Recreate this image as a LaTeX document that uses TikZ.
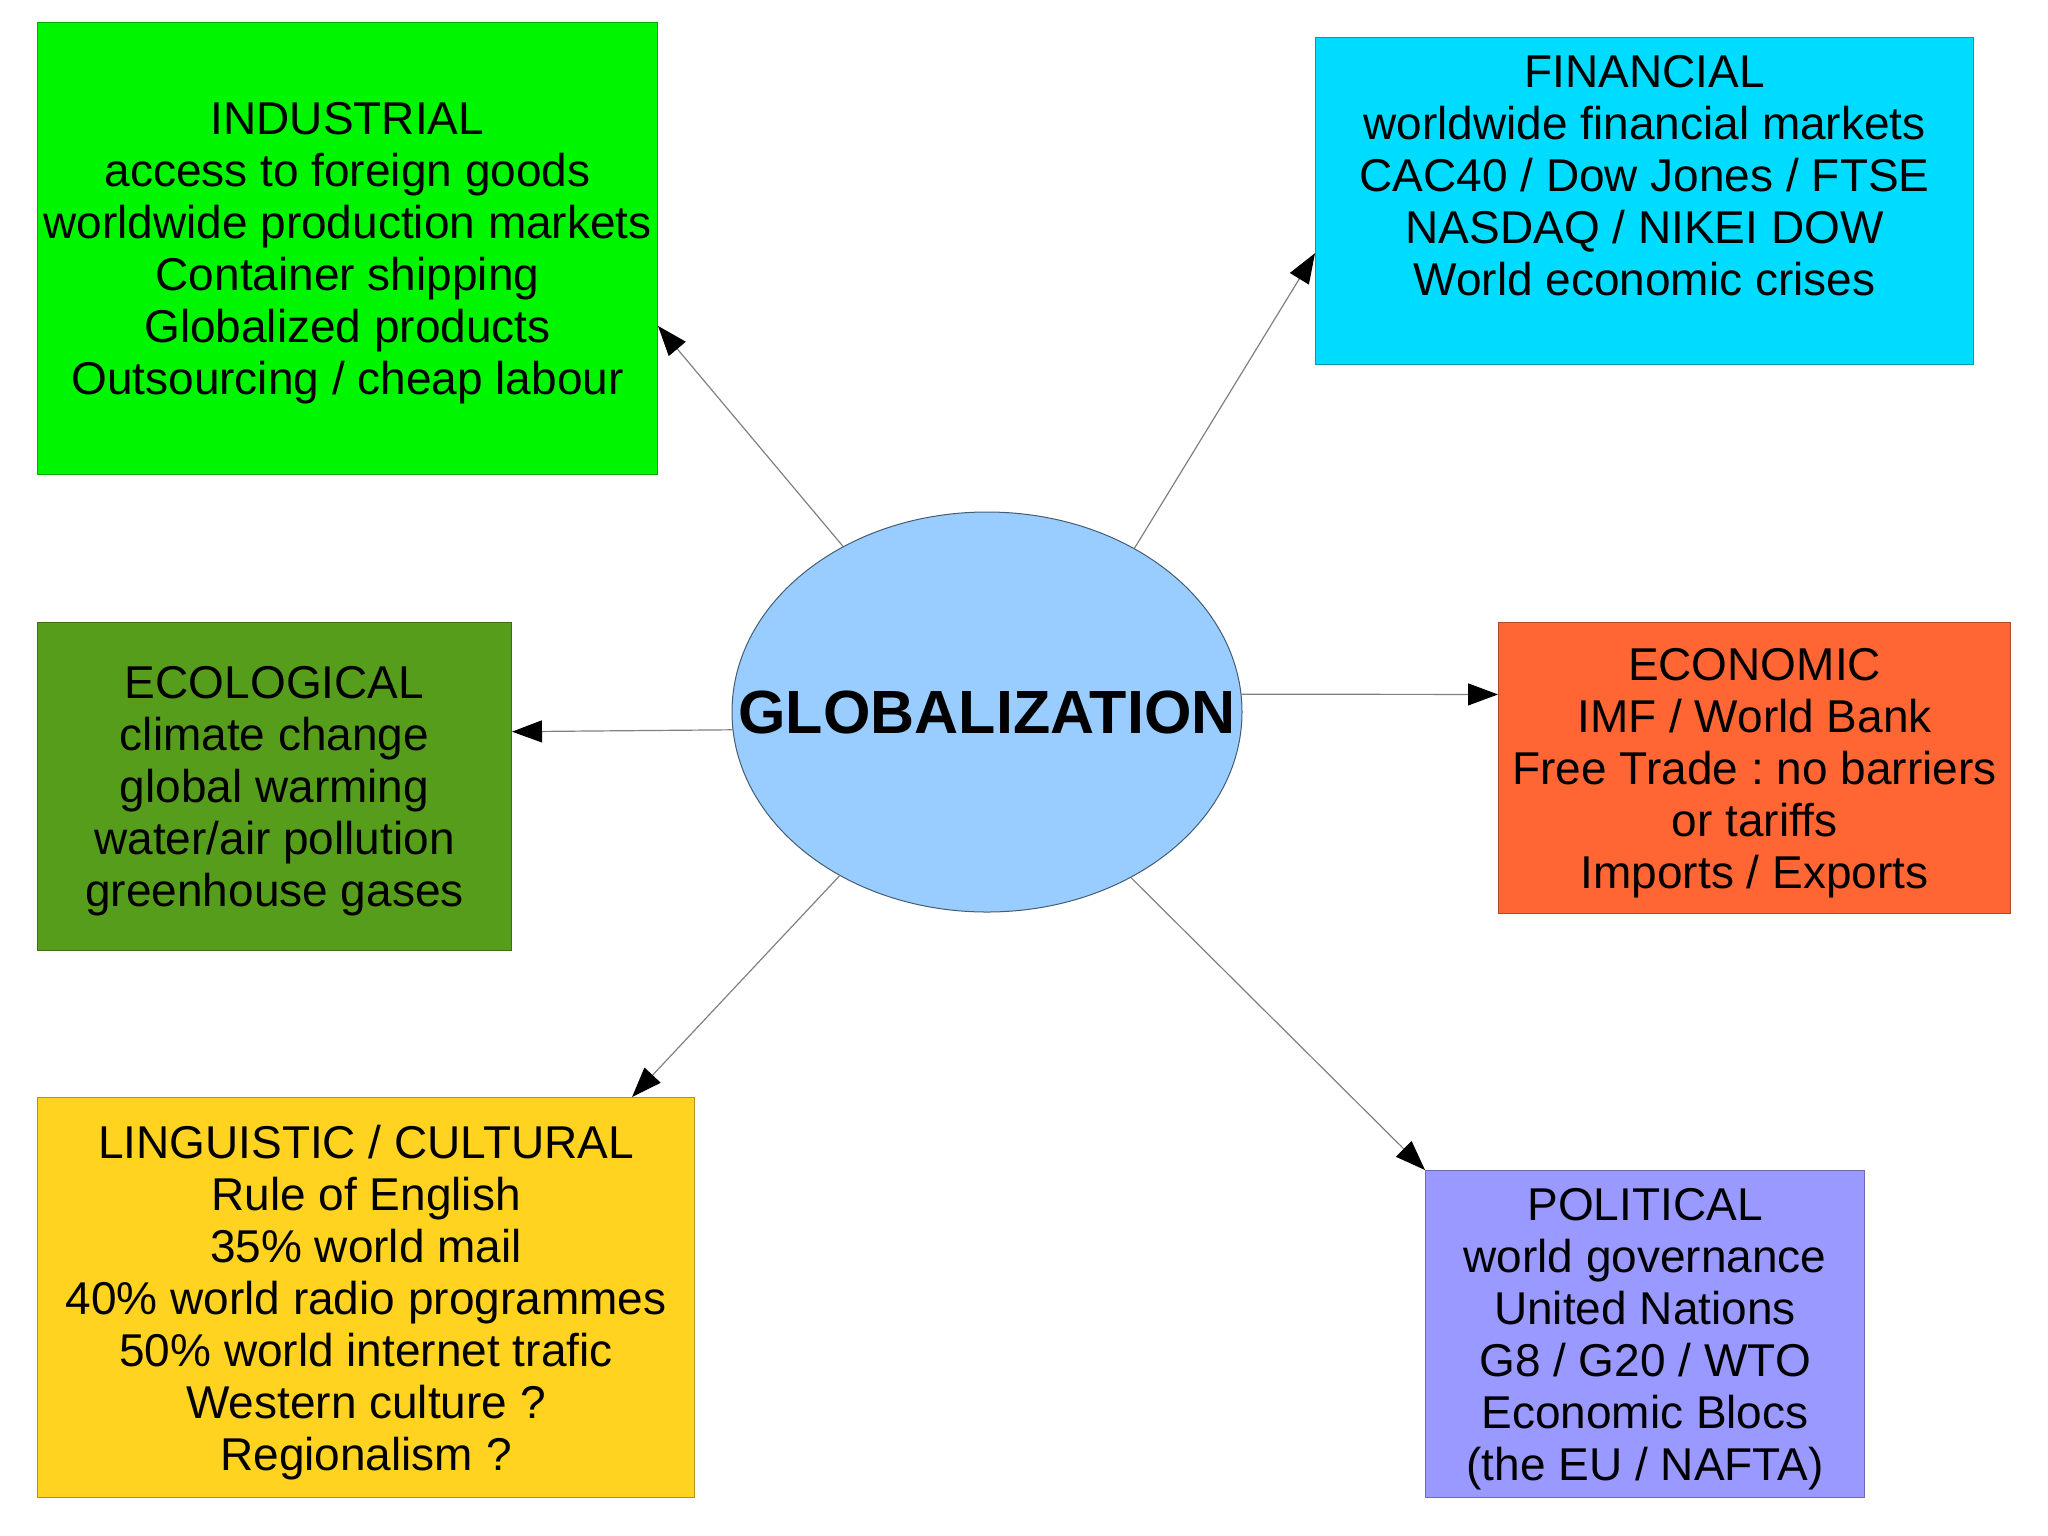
\documentclass[tikz,border=0pt]{standalone}
\usepackage{fontspec}
\setmainfont{Liberation Sans}
\usetikzlibrary{positioning, shapes.geometric, arrows.meta}
\definecolor{indgreen}{RGB}{0,245,0}
\definecolor{fincyan}{RGB}{0,220,255}
\definecolor{ecogreen}{RGB}{87,157,28}
\definecolor{econorange}{RGB}{255,102,51}
\definecolor{lingyellow}{RGB}{255,211,32}
\definecolor{polblue}{RGB}{153,153,255}
\definecolor{hubblue}{RGB}{153,204,255}
\frenchspacing

\begin{document}
\begin{tikzpicture}[x=1pt, y=-1pt, >={Triangle[length=30pt, width=22pt, black]},
    box/.style={draw, anchor=north west, inner sep=0pt, align=center, line width=1pt, text depth=0pt, font=\fontsize{46}{52}\selectfont},
    hub/.style={ellipse, draw=black!55!hubblue, fill=hubblue, minimum width=510pt, minimum height=400pt, inner sep=0pt, line width=1pt, font=\bfseries\fontsize{61}{66}\selectfont},
    link/.style={->, draw=gray, line width=1.2pt}]
    \useasboundingbox (0,0) rectangle (2048,1535);

    \node (glob) [hub] at (987,712) {\makebox[0pt]{GLOBALIZATION}};

    \node (ind) [box, fill=indgreen, draw=indgreen!70!black, minimum width=620pt, minimum height=452pt] at (37,22)
        {INDUSTRIAL\\ access to foreign goods\\ worldwide production markets\\ Container shipping\\ Globalized products\\ Outsourcing / cheap labour};
    \node (fin) [box, fill=fincyan, draw=fincyan!70!black, minimum width=658pt, minimum height=327pt, text depth=52pt] at (1315,37)
        {FINANCIAL\\ worldwide financial markets\\ CAC40 / Dow Jones / FTSE\\ NASDAQ / NIKEI DOW\\ World economic crises};
    \node (eco) [box, fill=ecogreen, draw=ecogreen!70!black, minimum width=474pt, minimum height=328pt] at (37,622)
        {ECOLOGICAL\\ climate change\\ global warming\\ water/air pollution\\ greenhouse gases};
    \node (econ) [box, fill=econorange, draw=econorange!70!black, minimum width=512pt, minimum height=291pt] at (1498,622)
        {ECONOMIC\\ IMF / World Bank\\ Free Trade : no barriers\\ or tariffs\\ Imports / Exports};
    \node (ling) [box, fill=lingyellow, draw=lingyellow!70!black, minimum width=657pt, minimum height=400pt] at (37,1097)
        {LINGUISTIC / CULTURAL\\ Rule of English\\ 35\% world mail\\ 40\% world radio programmes\\ 50\% world internet trafic\\ Western culture ?\\ Regionalism ?};
    \node (pol) [box, fill=polblue, draw=polblue!70!black, minimum width=439pt, minimum height=327pt] at (1425,1170)
        {POLITICAL\\ world governance\\ United Nations\\ G8 / G20 / WTO\\ Economic Blocs\\ (the EU / NAFTA)};

    % links from the hub
    \draw[link] (glob.131.5) -- (ind.-14.8);
    \draw[link] (glob.48) -- (fin.189.7);
    \draw[link] (glob.184.3) -- (eco.13);
    \draw[link] (glob.4.5) -- (econ.164.2);
    \draw[link] (glob.228.5) -- (ling.37.7);
    \draw[link] (glob.311.5) -- (pol.north west);
\end{tikzpicture}
\end{document}
